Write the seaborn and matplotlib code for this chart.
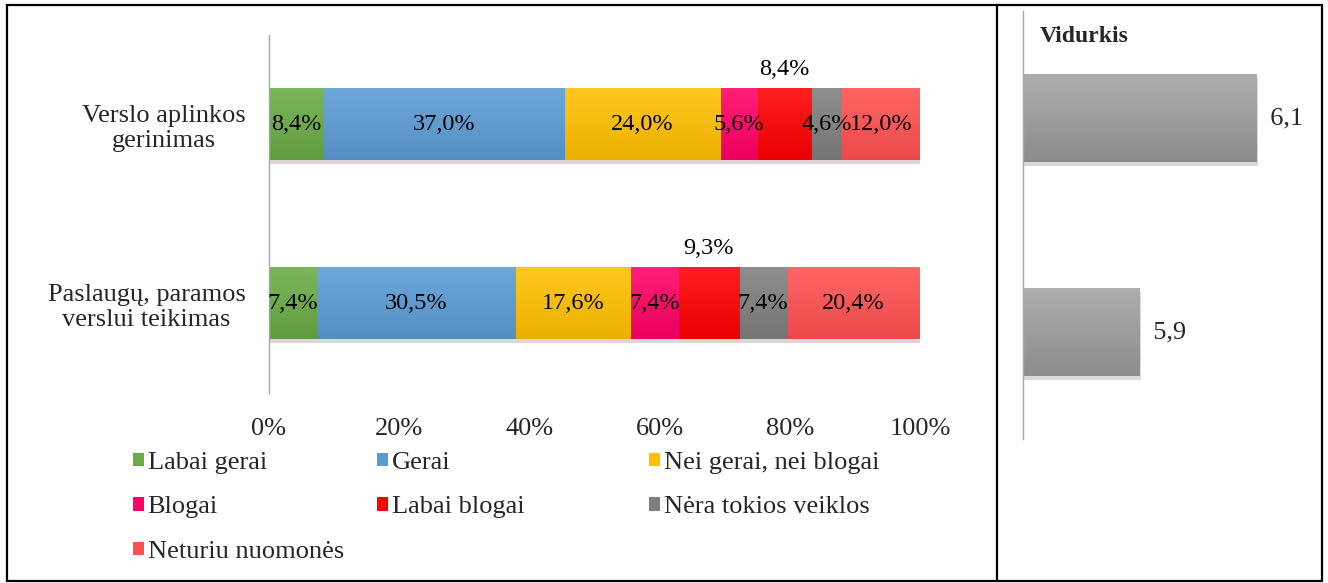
import numpy as np
import matplotlib
matplotlib.use('Agg')
import matplotlib.pyplot as plt
import matplotlib.patheffects as pe
from matplotlib.colors import to_rgb
from matplotlib.patches import Patch, Rectangle
from matplotlib.lines import Line2D
import seaborn as sns

# --- duomenys
kategorijos = ['Verslo aplinkos\ngerinimas', 'Paslaugų, paramos\nverslui teikimas']
atsakymai = ['Labai gerai', 'Gerai', 'Nei gerai, nei blogai', 'Blogai',
             'Labai blogai', 'Nėra tokios veiklos', 'Neturiu nuomonės']
verslo_aplinka = [8.4, 37.0, 24.0, 5.6, 8.4, 4.6, 12.0]
paslaugos = [7.4, 30.5, 17.6, 7.4, 9.3, 7.4, 20.4]
vidurkis = [6.1, 5.9]
x_ticks = [0, 20, 40, 60, 80, 100]

spalvos = ['#6AAB45', '#5B9BD5', '#FFC000', '#FF0066', '#FF0000', '#7F7F7F', '#FF5050']

sns.set_style('white')
plt.rcParams['font.family'] = ['Liberation Serif', 'DejaVu Serif']
plt.rcParams['font.size'] = 19

fig = plt.figure(figsize=(13.28, 5.83), dpi=100)
ax = fig.add_axes([269/1328, 1 - 393/583, 651/1328, 358/583])
ax2 = fig.add_axes([1023/1328, 1 - 439/583, 292.5/1328, 428/583])


def gradientas(axis, patch, z, sviesi=0.18, tamsi=0.88):
    # vertikalus perėjimas kaip Excel stulpeliuose
    c = np.array(to_rgb(patch.get_facecolor()))
    top = c + (1 - c) * sviesi
    bot = c * tamsi
    t = np.linspace(0, 1, 64)[:, None]
    img = (top[None, :] * (1 - t) + bot[None, :] * t)[:, None, :]
    x0, y0 = patch.get_x(), patch.get_y()
    x1, y1 = x0 + patch.get_width(), y0 + patch.get_height()
    x0 = max(x0, axis.get_xlim()[0])
    axis.imshow(img, extent=(x0, x1, y1, y0), aspect='auto', origin='upper',
                zorder=z, interpolation='bilinear')


reiksmes = np.array([verslo_aplinka, paslaugos])
suma = np.cumsum(reiksmes, axis=1)

shadow = [pe.SimplePatchShadow(offset=(1, -3), alpha=0.18), pe.Normal()]

# sukraunami stulpeliai: nuo didžiausios sumos iki mažiausios
for i in reversed(range(len(atsakymai))):
    sns.barplot(x=suma[:, i], y=kategorijos, color=spalvos[i], saturation=1,
                width=0.4, orient='h', ax=ax, linewidth=0)

ax.set_xlim(0, 100)
ax.set_ylim(1.5, -0.5)
for k, b in enumerate(ax.patches):
    if b.get_width() >= 99:
        b.set_path_effects(shadow)
    gradientas(ax, b, 2 + k * 0.01, sviesi=0.12, tamsi=0.92)

for r in range(len(kategorijos)):
    for i in range(len(atsakymai)):
        v = reiksmes[r, i]
        xc = suma[r, i] - v / 2
        yc = r - 0.31 if i == 4 else r
        ax.text(xc, yc, f'{v:.1f}%'.replace('.', ','), ha='center', va='center',
                fontsize=17.5, color='black', zorder=5)

ax.set_xlim(0, 100)
ax.set_ylim(1.5, -0.5)
ax.set_xticks(x_ticks)
ax.set_xticklabels([f'{t}%' for t in x_ticks])
ax.tick_params(axis='x', length=0, pad=18)
ax.tick_params(axis='y', length=0, pad=17)
for lbl in ax.get_yticklabels():
    lbl.set_multialignment('center')
    lbl.set_linespacing(1.2)
ax.set_xlabel('')
ax.set_ylabel('')
for s in ['top', 'right', 'bottom']:
    ax.spines[s].set_visible(False)
ax.spines['left'].set_color('#A6A6A6')
ax.spines['left'].set_linewidth(1)

# --- vidurkis
sns.barplot(x=vidurkis, y=['a', 'b'], color='#A3A3A3', saturation=1, width=0.41,
            orient='h', ax=ax2, linewidth=0)
ax2.set_xlim(5.7, 6.2)
ax2.set_ylim(1.5, -0.5)
for k, b in enumerate(ax2.patches):
    b.set_path_effects(shadow)
    gradientas(ax2, b, 2 + k * 0.01, sviesi=0.12, tamsi=0.86)
ax2.set_xlim(5.7, 6.2)
ax2.set_ylim(1.5, -0.5)
for b, v in zip(ax2.patches, vidurkis):
    ax2.text(b.get_x() + b.get_width(), b.get_y() + b.get_height() / 2,
             '  ' + f'{v:.1f}'.replace('.', ','), ha='left', va='center', fontsize=19)
ax2.set_xticks([])
ax2.set_yticks([])
ax2.set_xlabel('')
ax2.set_ylabel('')
for s in ['top', 'right', 'bottom']:
    ax2.spines[s].set_visible(False)
ax2.spines['left'].set_color('#A6A6A6')
ax2.spines['left'].set_linewidth(1)
ax2.patch.set_alpha(0)

fig.text(1040/1328, 1 - 36/583, 'Vidurkis', fontsize=17, fontweight='bold',
         ha='left', va='center')

# --- legenda (trys stulpeliai)
stulpeliai = [[0, 3, 6], [1, 4], [2, 5]]
x_pos = [133/1328, 377/1328, 649/1328]
for cols, xp in zip(stulpeliai, x_pos):
    h = [Patch(facecolor=spalvos[i], edgecolor='none') for i in cols]
    l = [atsakymai[i] for i in cols]
    fig.legend(h, l, loc='upper left', bbox_to_anchor=(xp, 1 - 452/583),
               frameon=False, fontsize=19, handlelength=0.4, handleheight=0.4,
               handletextpad=0.15, labelspacing=0.85, borderpad=0, borderaxespad=0)

# --- rėmelis
fig.add_artist(Rectangle((7/1328, 2/583), 1315/1328, 576/583, transform=fig.transFigure,
                         fill=False, edgecolor='black', linewidth=1.6))
fig.add_artist(Line2D([997/1328, 997/1328], [2/583, 578/583], transform=fig.transFigure,
                      color='black', linewidth=1.6))

plt.savefig('out.png', dpi=100)
